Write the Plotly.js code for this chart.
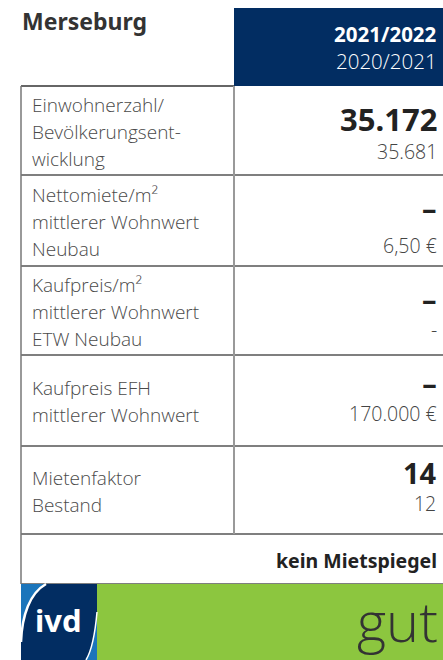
<!DOCTYPE html>
<html>
<head>
<meta charset="utf-8">
<script src="https://cdn.plot.ly/plotly-3.0.1.min.js"></script>
<style>
  html, body { margin: 0; padding: 0; background: #fff; }
  #chart { width: 443px; height: 660px; }
</style>
</head>
<body>
<div id="chart"></div>
<script>
// ---- data ----
const city = "Merseburg";
const years = ["2021/2022", "2020/2021"];
const indicators = [
  ["Einwohnerzahl/", "Bevölkerungsent-", "wicklung"],
  ["Nettomiete/m²", "mittlerer Wohnwert", "Neubau"],
  ["Kaufpreis/m²", "mittlerer Wohnwert", "ETW Neubau"],
  ["Kaufpreis EFH", "mittlerer Wohnwert"],
  ["Mietenfaktor", "Bestand"]
];
const currentValues = ["35.172", "–", "–", "–", "14"];
const previousValues = ["35.681", "6,50 €", "-", "170.000 €", "12"];
const note = "kein Mietspiegel";
const rating = "gut";
const brand = "ivd";

// ---- layout constants ----
const W = 443, H = 660;
const left = 21, mid = 234, right = 443;
const rowEdges = [86, 175, 266, 355, 446, 534, 584];
const bigOffset = [-12, -14, -13, -13, -12.5];     // vertical offsets from row centre
const smallOffset = [20, 24, 18, 14.5, 14.5];
const lineGap = 27;
const navy = "#022d62";
const lightBlue = "#1b75bb";
const green = "#8cc63f";
const LIGHT = "Open Sans, Noto Sans, sans-serif";
const BOLD = "Noto Sans, Open Sans, sans-serif";
const SMALL = 19.5;

const shapes = [];
const ann = [];

// header box
shapes.push({type: "rect", x0: mid, x1: right, y0: 8, y1: rowEdges[0], fillcolor: navy, line: {width: 0}, layer: "below"});
ann.push({x: 21, y: 21, text: city, showarrow: false, xanchor: "left", yanchor: "middle", borderpad: 0,
  font: {family: BOLD, size: 23, color: "#333", weight: 700}});
ann.push({x: 438, y: 33.5, text: years[0], showarrow: false, xanchor: "right", yanchor: "middle", borderpad: 0,
  height: 22, font: {family: BOLD, size: 20.5, color: "#fff", weight: 700}});
ann.push({x: 438, y: 60.5, text: years[1], showarrow: false, xanchor: "right", yanchor: "middle", borderpad: 0,
  height: 22, font: {family: LIGHT, size: 20.5, color: "#fff", weight: 300}});

// grid lines
shapes.push({type: "line", x0: left, x1: mid, y0: rowEdges[0], y1: rowEdges[0], line: {color: "#333", width: 1.5}});
for (let i = 1; i < rowEdges.length; i++) {
  shapes.push({type: "line", x0: left, x1: right, y0: rowEdges[i], y1: rowEdges[i], line: {color: "#555", width: 1.5}});
}
shapes.push({type: "line", x0: left, x1: left, y0: rowEdges[0], y1: rowEdges[rowEdges.length - 1], line: {color: "#777", width: 1.5}});
shapes.push({type: "line", x0: mid, x1: mid, y0: rowEdges[0], y1: rowEdges[5], line: {color: "#999", width: 2}});

// rows
indicators.forEach((lines, i) => {
  const top = rowEdges[i], bot = rowEdges[i + 1];
  const c = (top + bot) / 2;
  const n = lines.length;
  lines.forEach((t, j) => {
    ann.push({x: 31, y: c + 1 + (j - (n - 1) / 2) * lineGap, text: t, showarrow: false,
      xanchor: "left", yanchor: "middle", borderpad: 0,
      font: {family: LIGHT, size: 19, color: "#4a4a4a", weight: 300}});
  });
  if (smallOffset[i] - bigOffset[i] < 30) {
    // tight rows: both values in one two-line text block
    const smallBaseline = c + smallOffset[i] + 7.5;
    ann.push({x: 438, y: smallBaseline + 0.293 * SMALL, showarrow: false,
      text: `<span style="font-family:Noto Sans;font-size:29px;font-weight:700;color:#222">${currentValues[i]}</span><br><span style="font-size:${SMALL}px">${previousValues[i]}</span>`,
      xanchor: "right", yanchor: "bottom", align: "right", borderpad: 0,
      font: {family: LIGHT, size: 20.5, color: "#444", weight: 300}});
  } else {
    ann.push({x: 438, y: c + bigOffset[i], text: currentValues[i], showarrow: false,
      xanchor: "right", yanchor: "middle", borderpad: 0, height: 28,
      font: {family: BOLD, size: currentValues[i] === "–" ? 29 : 31, color: "#222", weight: 700}});
    ann.push({x: 438, y: c + smallOffset[i], text: previousValues[i], showarrow: false,
      xanchor: "right", yanchor: "middle", borderpad: 0, height: 22,
      font: {family: LIGHT, size: SMALL, color: "#444", weight: 300}});
  }
});

// note row
ann.push({x: 438, y: (rowEdges[5] + rowEdges[6]) / 2 + 1, text: note, showarrow: false,
  xanchor: "right", yanchor: "middle", borderpad: 0,
  font: {family: BOLD, size: 19.5, color: "#222", weight: 700}});

// bottom rating band
const bTop = rowEdges[6];
shapes.push({type: "rect", x0: 97, x1: right, y0: bTop, y1: H, fillcolor: green, line: {width: 0}});
// logo
shapes.push({type: "rect", x0: left, x1: 97, y0: bTop, y1: H, fillcolor: lightBlue, line: {width: 0}});
shapes.push({type: "path",
  path: `M 46 ${bTop} L 97 ${bTop} L 97 612 C 95 635 92 650 86 ${H} L 21 ${H} L 21 642 C 22 615 30 593 46 ${bTop} Z`,
  fillcolor: navy, line: {width: 0}});
shapes.push({type: "path", path: `M 21 642 C 22 615 30 593 46 ${bTop}`, line: {color: "#fff", width: 2.5}});
shapes.push({type: "path", path: `M 97 612 C 95 635 92 650 86 ${H}`, line: {color: "#fff", width: 1.5}});
ann.push({x: 58, y: 620, text: brand, showarrow: false, xanchor: "center", yanchor: "middle", borderpad: 0,
  font: {family: BOLD, size: 31, color: "#fff", weight: 700}});
ann.push({x: 439, y: 620, text: rating, showarrow: false, xanchor: "right", yanchor: "middle", borderpad: 0,
  font: {family: LIGHT, size: 56, color: "#333", weight: 300}});

Plotly.newPlot("chart", [], {
  width: W, height: H,
  margin: {l: 0, r: 0, t: 0, b: 0},
  paper_bgcolor: "#fff", plot_bgcolor: "#fff",
  xaxis: {range: [0, W], visible: false, fixedrange: true},
  yaxis: {range: [H, 0], visible: false, fixedrange: true},
  shapes: shapes, annotations: ann, showlegend: false
}, {staticPlot: true, displayModeBar: false});
</script>
</body>
</html>
